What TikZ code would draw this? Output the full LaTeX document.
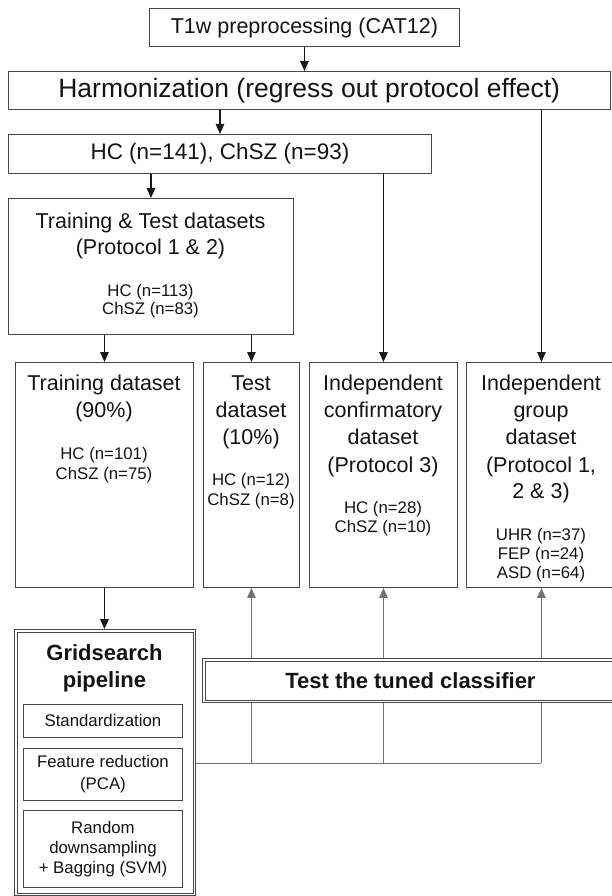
\documentclass[tikz,border=0pt]{standalone}
\usepackage{fontspec}
\setmainfont{Liberation Sans}
\usetikzlibrary{arrows.meta,calc,backgrounds}
\begin{document}
\begin{tikzpicture}[x=1pt,y=-1pt,
  box/.style={draw=black!72, line width=0.9pt, fill=white, inner sep=0pt, anchor=north west, align=center, text=black!92},
  inset/.style={draw=black!72, line width=0.8pt},
  ttl/.style={font=\fontsize{21.5}{27}\selectfont, text=black!92, inner sep=0pt, anchor=base},
  sml/.style={font=\fontsize{16.8}{20}\selectfont, text=black!92, inner sep=0pt, anchor=base},
  bld/.style={font=\fontsize{22}{27}\selectfont\bfseries, text=black!92, inner sep=0pt, anchor=base},
  arr/.style={-{Triangle[length=10pt,width=8.5pt]}, line width=1.3pt, draw=black!90},
  garr/.style={-{Triangle[length=10pt,width=8.5pt]}, line width=1pt, draw=black!55},
  gline/.style={line width=1pt, draw=black!55}
]
\useasboundingbox (0,0) rectangle (611,896);

% top chain
\node[box, font=\fontsize{21.5}{27}\selectfont, minimum width=310pt, minimum height=38pt] (t1w) at (149,8) {T1w preprocessing (CAT12)};
\node[box, font=\fontsize{26.5}{30}\selectfont, minimum width=601.5pt, minimum height=38pt] (harm) at (8,71) {Harmonization (regress out protocol effect)};
\node[box, font=\fontsize{22.5}{27}\selectfont, minimum width=423pt, minimum height=39pt] (hc) at (8,134) {HC (n=141), ChSZ (n=93)};

% training & test datasets
\node[box, minimum width=285pt, minimum height=136pt] (tt) at (8,198) {};
\node[ttl] (ttA) at (150.5,228.5) {Training \& Test datasets};
\node[ttl] (ttB) at (150.5,254.5) {(Protocol 1 \& 2)};
\node[sml] (ttC) at (150.5,296) {HC (n=113)};
\node[sml] (ttD) at (150.5,314) {ChSZ (n=83)};

% row of datasets
\node[box, minimum width=178pt, minimum height=225pt] (train) at (15,362) {};
\node[ttl] (trA) at (104,390.5) {Training dataset};
\node[ttl] (trB) at (104,417.5) {(90\%)};
\node[sml] (trC) at (104,459) {HC (n=101)};
\node[sml] (trD) at (104,479) {ChSZ (n=75)};

\node[box, minimum width=96pt, minimum height=225pt] (test) at (203,362) {};
\node[ttl] (teA) at (251,390.5) {Test};
\node[ttl] (teB) at (251,417.5) {dataset};
\node[ttl] (teC) at (251,444.5) {(10\%)};
\node[sml] (teD) at (251,485) {HC (n=12)};
\node[sml] (teE) at (251,505) {ChSZ (n=8)};

\node[box, minimum width=148pt, minimum height=225pt] (conf) at (309,362) {};
\node[ttl] (coA) at (383,390.5) {Independent};
\node[ttl] (coB) at (383,417.5) {confirmatory};
\node[ttl] (coC) at (383,444.5) {dataset};
\node[ttl] (coD) at (383,472.5) {(Protocol 3)};
\node[sml] (coE) at (383,513) {HC (n=28)};
\node[sml] (coF) at (383,532) {ChSZ (n=10)};

\node[box, minimum width=150pt, minimum height=225pt] (grp) at (466,362) {};
\node[ttl] (grA) at (541,390.5) {Independent};
\node[ttl] (grB) at (541,417.5) {group};
\node[ttl] (grC) at (541,444.5) {dataset};
\node[ttl] (grD) at (541,472.5) {(Protocol 1,};
\node[ttl] (grE) at (541,498.5) {2 \& 3)};
\node[sml] (grF) at (541,540) {UHR (n=37)};
\node[sml] (grG) at (541,559) {FEP (n=24)};
\node[sml] (grH) at (541,578) {ASD (n=64)};

% gridsearch pipeline (double border)
\node[box, minimum width=181pt, minimum height=266pt] (grid) at (14,629) {};
\draw[inset] ($(grid.north west)+(3,3)$) rectangle ($(grid.south east)+(-3,-3)$);
\node[bld] (gA) at (104.5,660) {Gridsearch};
\node[bld] (gB) at (104.5,687) {pipeline};
\node[box, font=\fontsize{16.8}{20}\selectfont, minimum width=159pt, minimum height=33pt] (std) at (23,704) {Standardization};
\node[box, font=\fontsize{16.8}{22}\selectfont, minimum width=159pt, minimum height=52pt] (feat) at (23,748) {Feature reduction\\(PCA)};
\node[box, font=\fontsize{16.8}{20}\selectfont, minimum width=159pt, minimum height=77pt] (rnd) at (23,810) {Random\\downsampling\\+ Bagging (SVM)};

% test the tuned classifier (double border)
\node[box, font=\fontsize{22}{27}\selectfont\bfseries, minimum width=416pt, minimum height=44pt] (clf) at (202,658) {Test the tuned classifier};
\draw[inset] ($(clf.north west)+(3,3)$) rectangle ($(clf.south east)+(-3,-3)$);

% black connectors
\draw[arr] (t1w.south) -- (t1w.south |- harm.north);
\draw[arr] (hc.north |- harm.south) -- (hc.north);
\draw[arr] (grp.north |- harm.south) -- (grp.north);
\draw[arr] (tt.north |- hc.south) -- (tt.north);
\draw[arr] (conf.north |- hc.south) -- (conf.north);
\draw[arr] (train.north |- tt.south) -- (train.north);
\draw[arr] (test.north |- tt.south) -- (test.north);
\draw[arr] (train.south) -- (grid.north -| train.south);

% gray connectors behind the classifier box
\coordinate (j0) at ($(grid.north east)!0.503!(grid.south east)$);
\coordinate (j1) at (test.south |- j0);
\coordinate (j2) at (conf.south |- j0);
\coordinate (j3) at (grp.south |- j0);
\begin{scope}[on background layer]
\draw[gline] (j0) -- (j3);
\draw[garr] (j1) -- (test.south);
\draw[garr] (j2) -- (conf.south);
\draw[garr] (j3) -- (grp.south);
\end{scope}
\end{tikzpicture}
\end{document}
